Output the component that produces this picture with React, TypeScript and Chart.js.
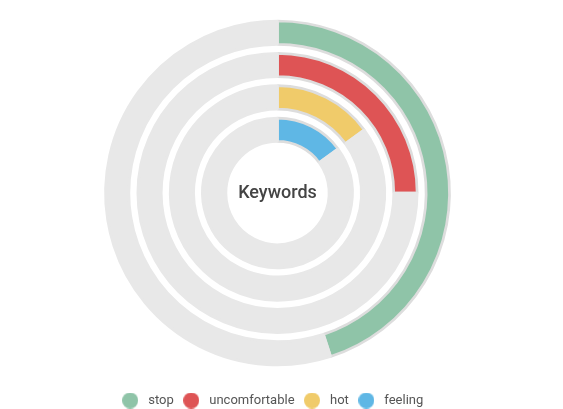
import React, { useEffect, useRef } from "react";
import { Chart, registerables } from "chart.js";

Chart.register(...registerables);

const categories = ["stop", "uncomfortable", "hot", "feeling"];
const values = [45, 25, 15, 15];
const maxValue = 100;
const colors = ["#8fc4a8", "#de5455", "#f0cb6a", "#5fb7e5"];
const centerLabel = "Keywords";

const TRACK = "#e8e8e8";
const EDGE = "#dddddd";
const LEGEND_SHIFT = 6.5;

function makeDot(color: string): HTMLCanvasElement {
  const c = document.createElement("canvas");
  c.width = 16;
  c.height = 16;
  const ctx = c.getContext("2d")!;
  ctx.fillStyle = color;
  ctx.beginPath();
  ctx.arc(8, 8, 8, 0, Math.PI * 2);
  ctx.fill();
  return c;
}

export default function App() {
  const ref = useRef<HTMLCanvasElement | null>(null);

  useEffect(() => {
    if (!ref.current) return;
    const datasets: any[] = [];
    categories.forEach((cat, i) => {
      if (i > 0) {
        datasets.push({
          label: "_gap" + i,
          data: [1],
          backgroundColor: ["rgba(0,0,0,0)"],
          borderWidth: 0,
          weight: 1,
        });
      }
      datasets.push({
        label: cat,
        data: [values[i], maxValue - values[i]],
        backgroundColor: [colors[i], TRACK],
        borderColor: [EDGE, TRACK],
        borderWidth: 2.7,
        weight: 2.6,
      });
    });
    const dots = colors.map(makeDot);

    const centerText = {
      id: "centerText",
      beforeDraw(chart: any) {
        if (chart.legend) {
          chart.legend.left = -LEGEND_SHIFT;
          chart.legend.right = chart.width - LEGEND_SHIFT;
        }
      },
      afterDraw(chart: any) {
        const { ctx, chartArea } = chart;
        ctx.save();
        ctx.font = "500 18px Roboto";
        ctx.fillStyle = "#444444";
        ctx.textAlign = "center";
        ctx.textBaseline = "middle";
        ctx.fillText(
          centerLabel,
          (chartArea.left + chartArea.right) / 2,
          (chartArea.top + chartArea.bottom) / 2
        );
        ctx.restore();
      },
    };

    const chart = new Chart(ref.current, {
      type: "doughnut",
      data: { labels: ["value", "rest"], datasets },
      options: {
        animation: false,
        responsive: true,
        maintainAspectRatio: false,
        events: [],
        radius: 172,
        cutout: "30%",
        plugins: {
          tooltip: { enabled: false },
          legend: {
            position: "bottom",
            labels: {
              usePointStyle: true,
              pointStyleWidth: 23,
              padding: 6,
              color: "#555555",
              font: { family: "Roboto", size: 13 },
              generateLabels: () =>
                categories.map((c, i) => ({
                  text: c,
                  fillStyle: colors[i],
                  strokeStyle: colors[i],
                  lineWidth: 0,
                  pointStyle: dots[i],
                  hidden: false,
                  index: i,
                  fontColor: "#555555",
                })),
            },
          },
        },
      } as any,
      plugins: [centerText],
    });
    return () => chart.destroy();
  }, []);

  return (
    <div
      style={{
        position: "fixed",
        left: 0,
        top: -2,
        width: 555,
        height: 419,
      }}
    >
      <canvas ref={ref} />
    </div>
  );
}
